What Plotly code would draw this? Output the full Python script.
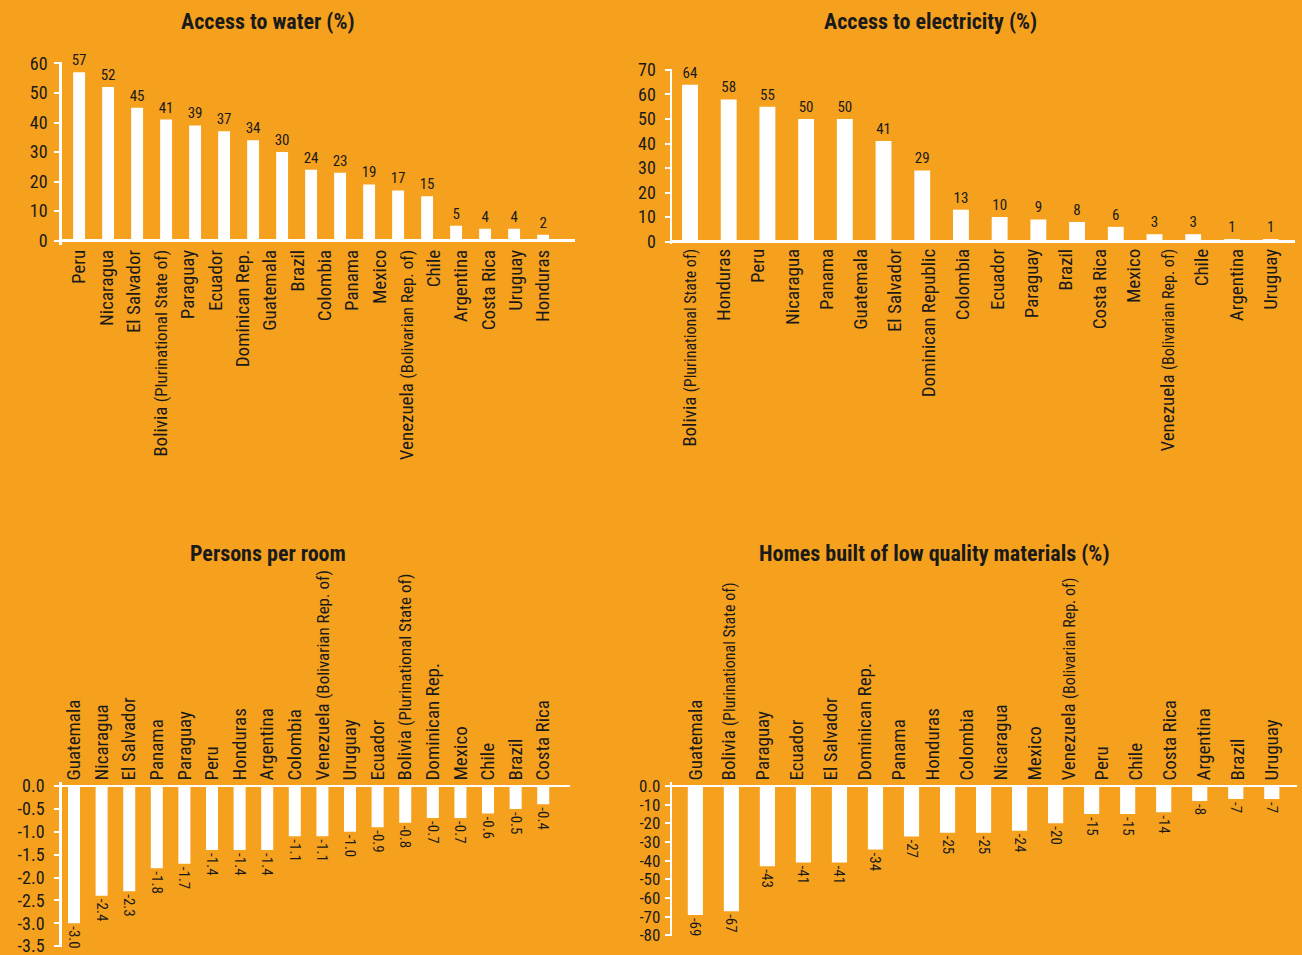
import numpy as np
import plotly.graph_objects as go

# ---------------- data ----------------
water_labels = ["Peru", "Nicaragua", "El Salvador", "Bolivia (Plurinational State of)", "Paraguay",
                "Ecuador", "Dominican Rep.", "Guatemala", "Brazil", "Colombia", "Panama", "Mexico",
                "Venezuela (Bolivarian Rep. of)", "Chile", "Argentina", "Costa Rica", "Uruguay", "Honduras"]
water_values = [57, 52, 45, 41, 39, 37, 34, 30, 24, 23, 19, 17, 15, 5, 4, 4, 2]

elec_labels = ["Bolivia (Plurinational State of)", "Honduras", "Peru", "Nicaragua", "Panama",
               "Guatemala", "El Salvador", "Dominican Republic", "Colombia", "Ecuador", "Paraguay",
               "Brazil", "Costa Rica", "Mexico", "Venezuela (Bolivarian Rep. of)", "Chile",
               "Argentina", "Uruguay"]
elec_values = [64, 58, 55, 50, 50, 41, 29, 13, 10, 9, 8, 6, 3, 3, 1, 1]

rooms_labels = ["Guatemala", "Nicaragua", "El Salvador", "Panama", "Paraguay", "Peru", "Honduras",
                "Argentina", "Colombia", "Venezuela (Bolivarian Rep. of)", "Uruguay", "Ecuador",
                "Bolivia (Plurinational State of)", "Dominican Rep.", "Mexico", "Chile", "Brazil",
                "Costa Rica"]
rooms_values = [-3.0, -2.4, -2.3, -1.8, -1.7, -1.4, -1.4, -1.4, -1.1, -1.1, -1.0, -0.9, -0.8,
                -0.7, -0.7, -0.6, -0.5, -0.4]

homes_labels = ["Guatemala", "Bolivia (Plurinational State of)", "Paraguay", "Ecuador",
                "El Salvador", "Dominican Rep.", "Panama", "Honduras", "Colombia", "Nicaragua",
                "Mexico", "Venezuela (Bolivarian Rep. of)", "Peru", "Chile", "Costa Rica",
                "Argentina", "Brazil", "Uruguay"]
homes_values = [-69, -67, -43, -41, -41, -34, -27, -25, -25, -24, -20, -15, -15, -14, -8, -7, -7]

titles = ["Access to water (%)", "Access to electricity (%)", "Persons per room",
          "Homes built of low quality materials (%)"]

rooms_ticks = [0.0, -0.5, -1.0, -1.5, -2.0, -2.5, -3.0, -3.5]
homes_ticks = [0, -10, -20, -30, -40, -50, -60, -70, -80]

# ---------------- style ----------------
W, H = 1302, 955
BG = "#F6A11E"
INK = "#1a1a1a"
FONT = "Liberation Sans Narrow, Arial Narrow, Roboto Condensed, sans-serif"


def px_x(p):
    return p / W


def px_y(p):
    return 1 - p / H


def fmt_label(name, small):
    if "(" in name:
        main, rest = name.split("(", 1)
        return f"{main}<span style='font-size:{small}px'>({rest}</span>"
    return name


panels = [
    dict(labels=water_labels, values=water_values, text=[str(v) for v in water_values],
         xdom=(61.7, 575), ydom=(245, 62), xr=(-0.6, 17.1), yr=(-1.5, 60.5),
         tickvals=[0, 10, 20, 30, 40, 50, 60], ticktext=None, bw=0.41,
         side="bottom", small=17, textangle=0, title_xy=(268, 22), standoff=3, tfs=18),
    dict(labels=elec_labels, values=elec_values, text=[str(v) for v in elec_values],
         xdom=(672, 1295), ydom=(244, 69), xr=(-0.465, 15.63), yr=(-1.0, 70.4),
         tickvals=[0, 10, 20, 30, 40, 50, 60, 70], ticktext=None, bw=0.41,
         side="bottom", small=16, textangle=0, title_xy=(930, 22), standoff=5, tfs=18),
    dict(labels=rooms_labels, values=rooms_values, text=[f"{v:.1f}" for v in rooms_values],
         xdom=(61.7, 570), ydom=(947, 781.5), xr=(-0.446, 17.97), yr=(-3.52, 0.1),
         tickvals=rooms_ticks, ticktext=[f"{v:.1f}" for v in rooms_ticks], bw=0.435,
         side="top", small=17, textangle=90, title_xy=(268, 553), standoff=6, tfs=18),
    dict(labels=homes_labels, values=homes_values, text=[str(v) for v in homes_values],
         xdom=(672.3, 1297), ydom=(936, 781.5), xr=(-0.64, 16.7), yr=(-80.3, 2.4),
         tickvals=homes_ticks, ticktext=["0.0"] + [str(v) for v in homes_ticks[1:]], bw=0.42,
         side="top", small=16, textangle=90, title_xy=(934, 553), standoff=1, tfs=17),
]

fig = go.Figure()
annotations = []
for i, p in enumerate(panels, start=1):
    xa = "x" if i == 1 else f"x{i}"
    ya = "y" if i == 1 else f"y{i}"
    n = len(p["values"])
    fig.add_trace(go.Bar(
        x=list(range(n)), y=p["values"], xaxis=xa, yaxis=ya,
        width=p["bw"], marker=dict(color="white", line=dict(width=0)),
        text=p["text"], textposition="outside", textangle=p["textangle"],
        textfont=dict(family=FONT, size=15, color=INK),
        constraintext="none", cliponaxis=False, showlegend=False, hoverinfo="skip",
    ))
    xkey = "xaxis" if i == 1 else f"xaxis{i}"
    ykey = "yaxis" if i == 1 else f"yaxis{i}"
    fig.update_layout(**{
        xkey: dict(
            domain=[px_x(p["xdom"][0]), px_x(p["xdom"][1])], range=list(p["xr"]),
            anchor=ya, side=p["side"], showgrid=False, zeroline=False, showline=False,
            ticks="", tickmode="array", automargin=False, ticklabeloverflow="allow",
            tickvals=list(np.linspace(0, n - 1, len(p["labels"]))),
            ticktext=[fmt_label(s, p["small"]) for s in p["labels"]],
            tickangle=-90, tickfont=dict(family=FONT, size=19, color=INK),
            fixedrange=True,
        ),
        ykey: dict(
            domain=[px_y(p["ydom"][0]), px_y(p["ydom"][1])], range=list(p["yr"]),
            anchor=xa, showgrid=False, zeroline=True, zerolinecolor="white", zerolinewidth=2.5,
            showline=True, linecolor="white", linewidth=2.5, automargin=False,
            ticklabeloverflow="allow",
            ticks="outside", ticklen=5, tickwidth=2, tickcolor="white",
            tickmode="array", tickvals=p["tickvals"],
            ticktext=p["ticktext"] if p["ticktext"] else [str(v) for v in p["tickvals"]],
            tickfont=dict(family=FONT, size=p["tfs"], color=INK), ticklabelstandoff=p["standoff"],
            fixedrange=True,
        ),
    })
    tx, ty = p["title_xy"]
    annotations.append(dict(
        text=f"<b>{titles[i - 1]}</b>", x=px_x(tx), y=px_y(ty), xref="paper", yref="paper",
        xanchor="center", yanchor="middle", showarrow=False,
        font=dict(family=FONT, size=22, color=INK),
    ))

fig.update_layout(
    width=W, height=H, margin=dict(l=0, r=0, t=0, b=0, autoexpand=False),
    paper_bgcolor=BG, plot_bgcolor=BG, annotations=annotations,
    font=dict(family=FONT, color=INK), bargap=0.5,
)

fig.write_html("out.html", include_plotlyjs=True, config={"displayModeBar": False, "staticPlot": True},
               post_script=f"document.documentElement.style.background='{BG}';"
                           "document.body.style.margin='0';document.body.style.overflow='hidden';")
